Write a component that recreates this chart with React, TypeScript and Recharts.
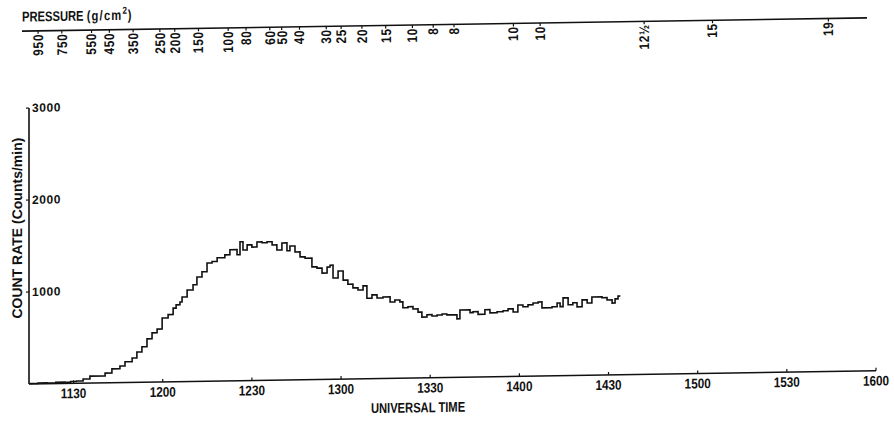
import React from 'react';
import { LineChart, Line, XAxis, YAxis } from 'recharts';

const SANS = "'Liberation Sans', Arial, sans-serif";
const INK = '#111';

// Universal time in minutes after midnight (step edges) and count rate at each step
const utMinutes = [
  675.0, 678.0, 681.0, 684.0, 687.0, 689.0, 691.0, 693.2, 695.5, 700.6,
  702.9, 705.6, 707.3, 709.7, 711.3, 713.0, 714.7, 716.4, 718.1, 719.8,
  721.8, 723.5, 724.5, 725.8, 726.5, 728.2, 730.2, 731.5, 733.2, 734.9,
  736.6, 738.3, 740.9, 742.6, 745.0, 746.0, 747.0, 748.4, 750.0, 751.7,
  753.4, 755.1, 756.8, 758.4, 760.1, 761.8, 762.8, 764.5, 766.2, 767.9,
  770.2, 771.9, 773.6, 775.3, 776.3, 777.3, 779.0, 780.7, 782.3, 784.0,
  785.7, 787.4, 788.7, 790.4, 792.1, 794.1, 796.5, 798.1, 799.8, 800.8,
  802.5, 804.2, 805.9, 807.2, 808.9, 810.6, 812.3, 814.0, 815.6, 819.0,
  820.0, 823.4, 824.4, 826.1, 828.4, 830.1, 832.5, 834.5, 836.2, 837.9,
  839.5, 841.2, 842.9, 844.6, 846.3, 847.6, 851.0, 852.7, 853.7, 854.7,
  856.4, 858.0, 859.4, 861.1, 862.8, 864.4, 867.8, 869.5, 871.2, 872.2,
  873.2, 874.0,
];

const countRate = [
  5, 10, 8, 15, 12, 20, 25, 45, 75, 105,
  150, 180, 225, 265, 330, 385, 470, 535, 575, 695,
  730, 800, 835, 865, 920, 995, 1050, 1135, 1190, 1285,
  1300, 1340, 1370, 1425, 1370, 1510, 1420, 1475, 1450, 1505,
  1495, 1505, 1470, 1415, 1490, 1405, 1455, 1390, 1335, 1320,
  1225, 1210, 1155, 1220, 1240, 1100, 1175, 1075, 1030, 990,
  965, 1010, 875, 910, 875, 885, 830, 850, 830, 765,
  775, 750, 715, 660, 685, 670, 680, 690, 680, 635,
  730, 700, 710, 680, 730, 695, 705, 715, 735, 700,
  775, 755, 775, 795, 805, 740, 750, 790, 750, 845,
  770, 790, 745, 820, 785, 850, 840, 815, 780, 825,
  855, 855,
];

const timeTicks = [690, 720, 750, 780, 810, 840, 870, 900, 930, 960];
const countTicks = [1000, 2000, 3000];

// Balloon pressure readings along the flight
const pressureTimes = [
  678, 686, 696, 702, 710, 719, 724, 732, 742, 748,
  756, 760, 766, 775, 780, 787, 795, 804, 811, 818,
  838, 847, 882, 905, 944,
];
const pressureLabels = [
  '950', '750', '550', '450', '350', '250', '200', '150', '100', '80',
  '60', '50', '40', '30', '25', '20', '15', '10', '8', '8',
  '10', '10', '12½', '15', '19',
];

const series = utMinutes.map((t, i) => ({ t, rate: countRate[i] }));
const pressureRows = pressureTimes.map((t, i) => ({ t, p: pressureLabels[i] }));
const pressureByTime = new Map(pressureTimes.map((t, i) => [t, pressureLabels[i]]));

const hhmm = (m: number) => {
  const h = Math.floor(m / 60);
  const mm = Math.round(m - h * 60);
  return `${h}${String(mm).padStart(2, '0')}`;
};

// Bold lettering, optionally rotated and squeezed along the writing direction
const Letters = ({ x, y, rotate = 0, sx = 0.8, anchor = 'middle', size = 14, spacing = 0, children }: any) => (
  <text
    x={0}
    y={0}
    transform={`translate(${x} ${y}) rotate(${rotate}) scale(${sx} 1)`}
    textAnchor={anchor}
    dominantBaseline="central"
    fontFamily={SANS}
    fontSize={size}
    fontWeight={700}
    letterSpacing={spacing}
    fill={INK}
  >
    {children}
  </text>
);

const TimeTick = (props: any) => {
  const { x, y, payload } = props;
  return (
    <g>
      <line x1={x} y1={y} x2={x} y2={y - 3} stroke={INK} strokeWidth={1.2} />
      <Letters x={x} y={y + 10} sx={0.84}>{hhmm(payload.value)}</Letters>
    </g>
  );
};

const CountTick = (props: any) => {
  const { x, y, payload } = props;
  return (
    <g>
      <line x1={x - 3} y1={y} x2={x} y2={y} stroke={INK} strokeWidth={1.2} />
      <Letters x={x + 3} y={y} anchor="start" size={12} sx={1} spacing={0.6}>{payload.value}</Letters>
    </g>
  );
};

const PressureTick = (props: any) => {
  const { x, y, payload } = props;
  const label = pressureByTime.get(payload.value) ?? '';
  return (
    <g>
      <line x1={x} y1={y} x2={x} y2={y + 3} stroke={INK} strokeWidth={1.2} />
      <Letters x={x} y={y + 3} rotate={-90} anchor="end" sx={0.85} spacing={0.8}>{label}</Letters>
    </g>
  );
};

const PressureTitle = () => (
  <Letters x={22} y={17} anchor="start" sx={0.8}>
    <tspan>PRESSURE </tspan>
    <tspan letterSpacing={1.5}>(g/cm</tspan>
    <tspan fontSize={10} dy={-5}>2</tspan>
    <tspan dy={5} dx={1}>)</tspan>
  </Letters>
);

const RateTitle = () => (
  <Letters x={17} y={228} rotate={-90} sx={1}>COUNT RATE (Counts/min)</Letters>
);

const TimeTitle = () => (
  <Letters x={418} y={414} sx={0.8}>UNIVERSAL TIME</Letters>
);

export default function App() {
  return (
    <div
      style={{
        position: 'absolute', left: 0, top: 0, width: 894, height: 423,
        transform: 'skewY(-0.9deg)', transformOrigin: '29px 384px',
      }}
    >
      <div style={{ position: 'absolute', left: 0, top: 0 }}>
        <LineChart width={894} height={423} data={series}
          margin={{ top: 108, right: 18, bottom: 9, left: 28 }}>
          <XAxis dataKey="t" type="number" domain={[675, 960]} ticks={timeTicks}
            interval={0} height={30} tickSize={0} tickMargin={0} tickLine={false}
            axisLine={{ stroke: INK, strokeWidth: 1.6 }} tick={<TimeTick />}
            allowDataOverflow label={{ content: () => <TimeTitle /> }} />
          <YAxis type="number" domain={[0, 3000]} ticks={countTicks} width={1}
            interval={0} tickSize={0} tickMargin={0} tickLine={false}
            axisLine={{ stroke: INK, strokeWidth: 1.6 }} tick={<CountTick />}
            label={{ content: () => <RateTitle /> }} />
          <Line type="stepAfter" dataKey="rate" stroke={INK} strokeWidth={1.6}
            dot={false} isAnimationActive={false} />
        </LineChart>
      </div>
      <div style={{ position: 'absolute', left: 0, top: 0 }}>
        <LineChart width={894} height={70} data={pressureRows}
          margin={{ top: 21, right: 27, bottom: 0, left: 22 }}>
          <XAxis dataKey="t" type="number" domain={[672.6, 957]} ticks={pressureTimes}
            interval={0} height={39} tickSize={0} tickMargin={0} tickLine={false}
            axisLine={{ stroke: INK, strokeWidth: 1.6 }} tick={<PressureTick />}
            label={{ content: () => <PressureTitle /> }} />
          <YAxis hide domain={[0, 1]} />
        </LineChart>
      </div>
    </div>
  );
}
